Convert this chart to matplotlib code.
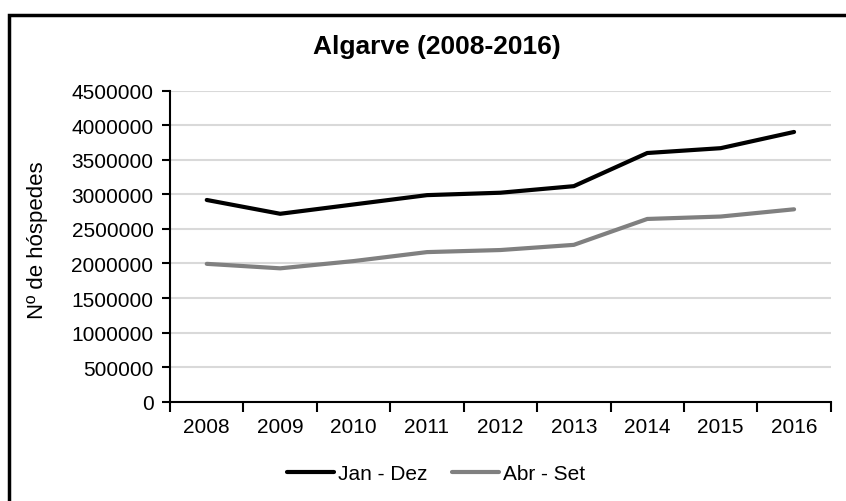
import matplotlib.pyplot as plt
from matplotlib.patches import Rectangle
import numpy as np

plt.rcParams['font.family'] = ['Liberation Sans', 'DejaVu Sans']

anos = ['2008', '2009', '2010', '2011', '2012', '2013', '2014', '2015', '2016']
jan_dez = [2920000, 2720000, 2855000, 2990000, 3025000, 3120000, 3600000, 3670000, 3905000]
abr_set = [1995000, 1930000, 2035000, 2165000, 2195000, 2270000, 2645000, 2680000, 2785000]

fig = plt.figure(figsize=(8.46, 5.02), dpi=100)
ax = fig.add_axes([0.201, 0.198, 0.781, 0.619])

x = np.arange(len(anos))
ax.plot(x, jan_dez, color='black', linewidth=3, label='Jan - Dez', solid_capstyle='round')
ax.plot(x, abr_set, color='#808080', linewidth=3, label='Abr - Set', solid_capstyle='round')

ax.set_ylim(0, 4500000)
ax.set_yticks(np.arange(0, 4500001, 500000))
ax.set_yticklabels([str(v) for v in range(0, 4500001, 500000)], fontsize=15)
ax.yaxis.grid(True, color='#d9d9d9', linewidth=1.5)
ax.set_axisbelow(True)

# ticks between categories, labels at the centres
ax.set_xlim(-0.5, len(anos) - 0.5)
ax.set_xticks(np.arange(-0.5, len(anos), 1.0))
ax.set_xticklabels([])
ax.set_xticks(x, minor=True)
ax.set_xticklabels(anos, minor=True, fontsize=15)
ax.tick_params(axis='x', which='major', direction='out', length=7, width=1.5)
ax.tick_params(axis='x', which='minor', length=0, pad=11)
ax.tick_params(axis='y', direction='out', length=6, width=1.5, pad=6)

for s in ['top', 'right']:
    ax.spines[s].set_visible(False)
ax.spines['left'].set_linewidth(1.5)
ax.spines['bottom'].set_linewidth(1.5)

fig.text(37.5 / 846, 1 - 240 / 502, 'Nº de hóspedes', rotation=90,
         ha='center', va='center', fontsize=16)
fig.text(437 / 846, 1 - 47 / 502, 'Algarve (2008-2016)', ha='center', va='center',
         fontsize=19, fontweight='bold')

fig.legend(loc='center', bbox_to_anchor=(436 / 846, 1 - 475 / 502), ncol=2, frameon=False,
           fontsize=15, handlelength=2.25, handletextpad=0.2, columnspacing=1.2)

# outer chart border (only top/left visible in the frame)
fig.patches.append(Rectangle((8.5 / 846, -0.1), 1.2, 1 - 15.5 / 502 + 0.1,
                             transform=fig.transFigure, fill=False,
                             edgecolor='black', linewidth=2.5))

fig.savefig('out.png', dpi=100)
